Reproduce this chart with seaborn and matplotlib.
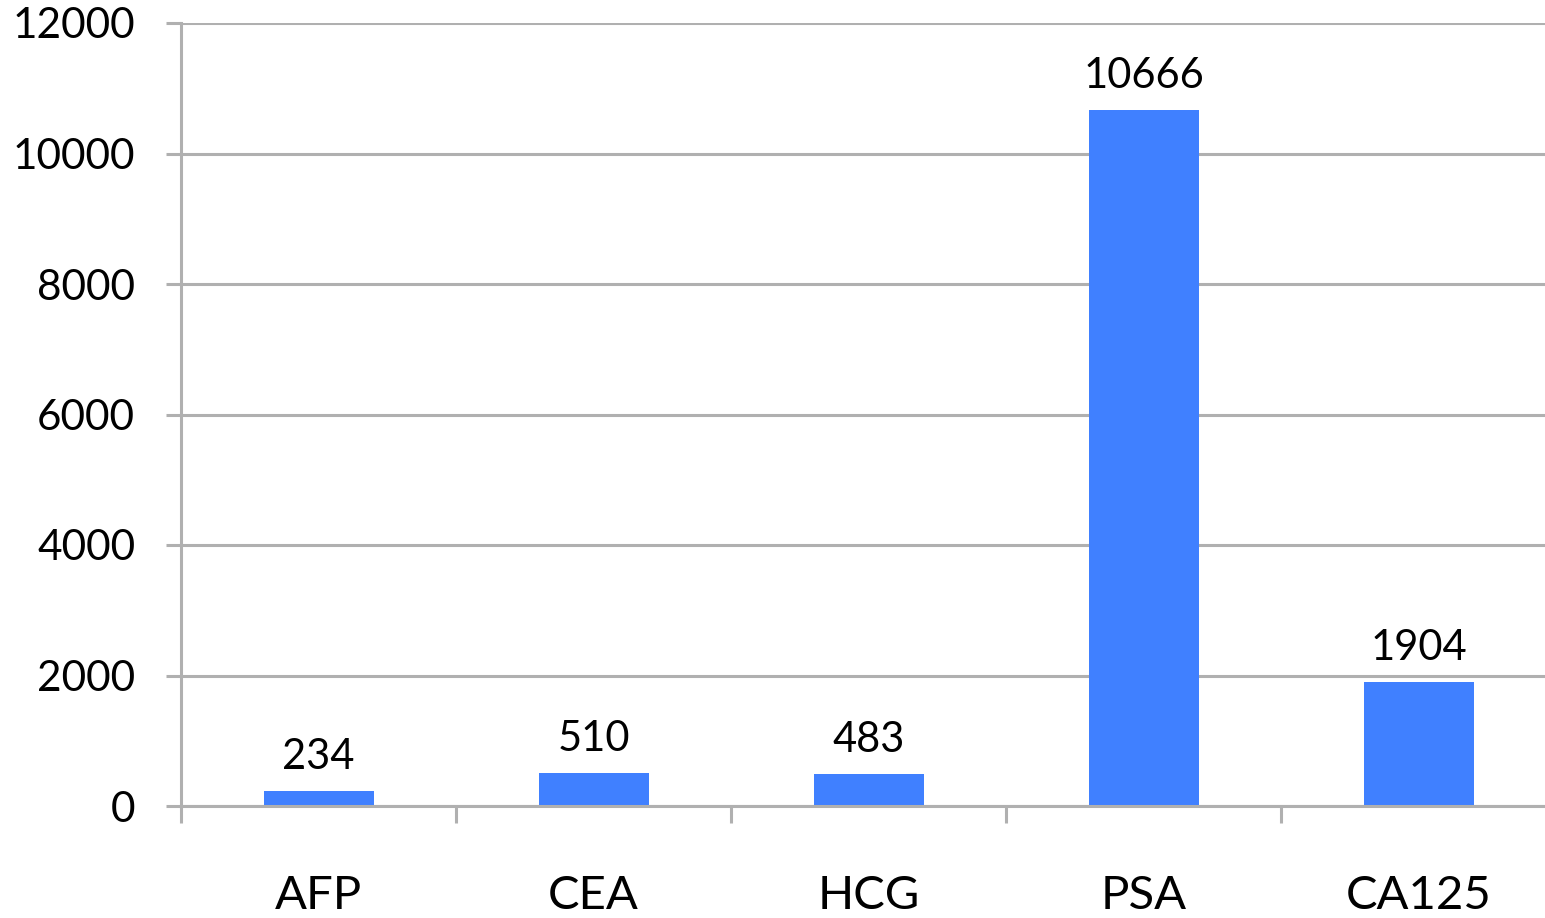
import numpy as np
import pandas as pd
import matplotlib
matplotlib.use("Agg")
import matplotlib.pyplot as plt
import seaborn as sns

# data
markers = ["AFP", "CEA", "HCG", "PSA", "CA125"]
counts = [234, 510, 483, 10666, 1904]

df = pd.DataFrame({"marker": markers, "count": counts})

sns.set_style("white")
plt.rcParams["font.family"] = ["Lato", "DejaVu Sans"]
plt.rcParams["text.color"] = "black"
plt.rcParams["xtick.labelcolor"] = "black"
plt.rcParams["ytick.labelcolor"] = "black"

grey = "#b0b0b0"
fig = plt.figure(figsize=(15.45, 9.18), dpi=100)
ax = fig.add_axes([181 / 1545, 112 / 918, 1375 / 1545, 783 / 918])

sns.barplot(data=df, x="marker", y="count", color="#4080ff", width=0.4,
            saturation=1, linewidth=0, ax=ax)

ax.set_xlim(-0.5, 4.5)
ax.set_ylim(0, 12000)
ax.set_yticks(np.arange(0, 12001, 2000))
ax.yaxis.grid(True, color=grey, linewidth=2.2)
ax.set_axisbelow(True)
ax.set_xlabel("")
ax.set_ylabel("")

for s in ["top", "right"]:
    ax.spines[s].set_visible(False)
for s in ["left", "bottom"]:
    ax.spines[s].set_color(grey)
    ax.spines[s].set_linewidth(2.2)

ax.tick_params(axis="y", length=11, width=2.2, color=grey, pad=22,
               labelsize=30.5, left=True, labelcolor="black")
ax.tick_params(axis="x", which="major", length=0, pad=50, labelsize=34,
               labelcolor="black")
ax.set_xticks(np.arange(-0.5, 4.6, 1), minor=True)
ax.tick_params(axis="x", which="minor", length=12, width=2.2, color=grey,
               bottom=True)

# value labels
for i, v in enumerate(counts):
    ax.text(i, v + 230, str(v), ha="center", va="bottom", fontsize=30,
            color="black")

fig.savefig("out.png", dpi=100)
